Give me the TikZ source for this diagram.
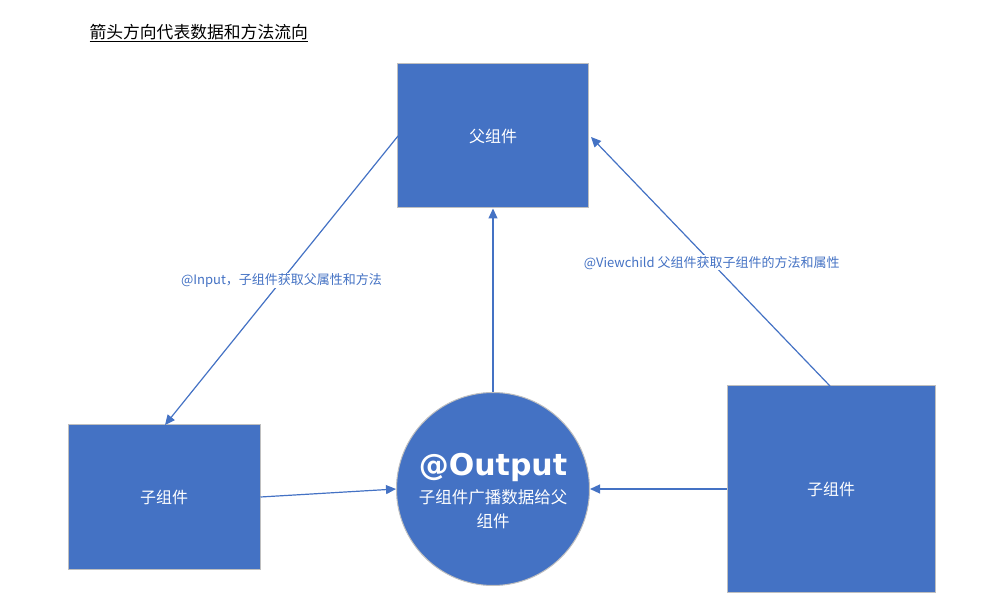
\documentclass[tikz,border=0pt]{standalone}
\usepackage{fontspec}
\setmainfont{Noto Sans CJK SC}
\newfontfamily\latinbold{DejaVu Sans}
\usetikzlibrary{arrows.meta}
\definecolor{acc}{HTML}{4472C4}
\definecolor{edge}{HTML}{BFBFBF}
\begin{document}
\begin{tikzpicture}[x=1pt,y=-1pt,
  boxstyle/.style={draw=edge,line width=1pt,fill=acc,text=white,font=\fontsize{16}{19}\selectfont,inner sep=0pt},
  conn/.style={draw=acc,line width=1.2pt,-{Triangle[length=10pt,width=9pt]}},
  lbl/.style={fill=white,text=acc,font=\fontsize{13}{15}\selectfont,inner sep=1pt}]
\useasboundingbox (0,0) rectangle (999,609);
\node[anchor=west,font=\fontsize{16.8}{19}\selectfont] (title) at (86,33) {\underline{箭头方向代表数据和方法流向}};
\node[boxstyle,minimum width=191pt,minimum height=144pt] (parent) at (493,136) {父组件};
\node[boxstyle,minimum width=192pt,minimum height=144pt] (lchild) at (164,497) {子组件};
\node[boxstyle,minimum width=208pt,minimum height=207pt] (rchild) at (831,489) {子组件};
\node[boxstyle,circle,minimum size=193pt] (out) at (493,489) {};
\node[text=white,font=\latinbold\bfseries\fontsize{30}{34}\selectfont] (outt) at (493,467) {@Output};
\node[text=white,font=\fontsize{16.5}{24}\selectfont,align=center] (outs) at (493,509) {子组件广播数据给父\\组件};
\coordinate (pl) at (398,136);
\coordinate (lt) at (165,425);
\coordinate (rt) at (830,386);
\coordinate (pr) at (591,137);
\draw[conn] (pl) -- (lt) node[lbl,pos=0.5] (l1) {@Input，子组件获取父属性和方法};
\draw[conn] (out.north) -- (parent.south);
\draw[conn] (rt) -- (pr) node[lbl,pos=0.495] (l2) {@Viewchild 父组件获取子组件的方法和属性};
\draw[conn] (lchild.east) -- (out.west);
\draw[conn] (rchild.west) -- (out.east);
\end{tikzpicture}
\end{document}
